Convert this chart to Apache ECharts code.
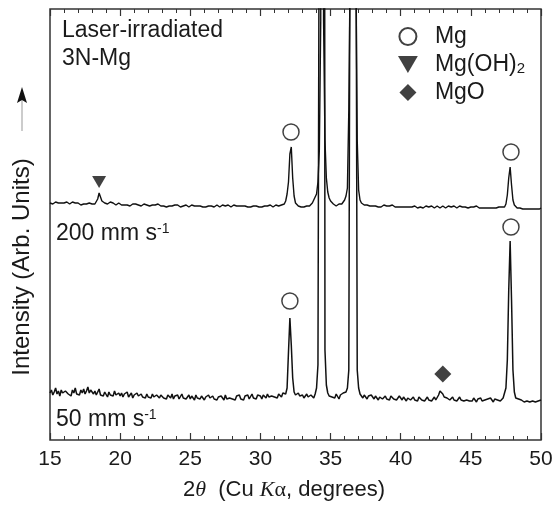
<!DOCTYPE html>
<html>
<head>
<meta charset="utf-8">
<script src="https://cdn.jsdelivr.net/npm/echarts@6/dist/echarts.min.js"></script>
<style>
  html, body { margin: 0; padding: 0; background: #fff; }
  #chart { width: 558px; height: 506px; }
</style>
</head>
<body>
<div id="chart"></div>
<script>
  // scan grid: 2theta from 15 to 50 deg, step 0.1
  var scanStart = 15, scanStep = 0.1;

  // 200 mm/s trace (arb. units), one row per degree
  var trace200 = [
    237,238,236,237,238,236,237,238,237,236,
    237,236,238,237,236,237,238,236,237,236,
    237,236,235,237,236,237,236,235,237,236,
    236,237,236,238,241,247,243,239,238,237,
    237,236,237,238,236,237,236,235,236,237,
    236,235,236,235,237,235,236,234,235,236,
    235,236,234,235,236,234,235,236,234,235,
    235,234,236,235,234,235,234,236,235,234,
    235,234,235,233,235,234,235,234,233,235,
    234,235,234,233,235,234,233,235,234,233,
    234,235,233,234,235,234,233,234,235,233,
    234,233,235,234,233,234,235,233,234,235,
    234,233,234,235,233,234,233,235,234,233,
    234,235,233,234,233,234,235,234,233,234,
    235,233,234,233,235,234,233,234,235,233,
    234,233,235,234,233,234,233,235,234,233,
    234,235,233,234,233,235,234,236,239,246,
    258,286,293,262,244,237,235,234,235,233,
    234,233,235,234,233,234,236,237,240,243,
    246,258,290,420,4000,420,300,262,248,242,
    239,237,236,235,234,235,236,234,236,237,
    240,244,252,330,480,1500,5000,1500,480,300,
    250,240,237,236,235,234,235,233,234,235,
    234,233,234,235,233,234,233,234,235,233,
    234,233,234,233,235,234,233,234,233,234,
    233,234,233,235,233,234,233,234,233,232,
    234,233,232,234,233,234,232,233,234,233,
    233,232,234,233,232,233,234,233,232,233,
    234,233,232,233,234,232,233,232,234,233,
    232,233,234,232,233,232,233,234,232,233,
    233,232,233,232,234,233,232,233,232,233,
    232,233,232,234,232,233,232,233,232,231,
    233,232,233,232,233,236,245,262,273,255,
    240,235,233,232,231,232,233,231,232,231,
    232,231,232,231,233,231,232,231,232,231,
    232
  ];

  // 50 mm/s trace
  var trace50 = [
    47,50,45,48,52,46,49,44,50,47,
    45,49,51,46,48,44,50,47,52,46,
    48,45,50,47,51,46,49,53,47,50,
    52,46,49,45,48,51,45,47,44,48,
    46,43,48,45,47,44,49,45,43,47,
    44,47,43,46,44,48,43,45,47,42,
    45,43,47,44,42,46,43,45,42,46,
    43,45,42,46,43,41,45,44,42,45,
    47,42,44,41,45,43,42,46,41,44,
    42,45,41,43,46,42,44,41,43,45,
    41,44,42,40,45,42,43,41,44,42,
    40,43,41,45,42,40,44,41,43,40,
    43,41,44,42,40,45,41,43,42,44,
    41,43,40,44,42,45,41,43,40,44,
    42,45,41,43,46,42,44,41,45,43,
    44,41,45,43,42,46,43,41,44,46,
    43,45,42,46,44,43,47,45,46,52,
    88,122,95,62,48,45,43,47,44,42,
    45,42,44,46,43,41,45,44,42,46,
    52,75,600,3000,5000,2000,90,55,47,44,
    46,43,45,42,46,44,41,45,43,47,
    46,48,52,70,600,3000,6000,3000,600,70,
    52,46,44,42,45,43,41,44,42,45,
    43,41,44,42,40,43,45,41,42,44,
    41,43,40,44,42,41,43,40,42,44,
    42,40,43,41,39,42,44,40,41,43,
    40,42,39,43,41,40,42,39,41,43,
    40,42,39,41,43,40,42,45,49,50,
    46,43,41,42,44,40,41,43,40,42,
    39,41,43,40,42,39,41,40,42,39,
    41,39,42,40,38,41,40,42,39,41,
    40,38,41,39,42,40,38,41,39,40,
    41,39,40,42,44,52,80,150,199,140,
    70,48,42,40,41,39,40,42,38,40,
    39,41,38,40,39,41,38,40,39,38,
    40
  ];

  // peak assignment marks [2theta, height]
  var mgMarks = [[32.18, 308], [47.86, 288], [32.1, 139], [47.86, 213]];
  var mgoh2Marks = [[18.5, 258]];
  var mgoMarks = [[43.0, 66]];

  var xTicks = { min: 15, max: 50, interval: 5 };

  function pairs(arr) {
    return arr.map(function (v, i) {
      return [+(scanStart + i * scanStep).toFixed(2), v];
    });
  }

  var FONT = '"Liberation Sans", Arial, Helvetica, sans-serif';
  var INK = '#1a1a1a';

  var chart = echarts.init(document.getElementById('chart'));

  function xAxisCfg(pos, labels) {
    return {
      type: 'value',
      position: pos,
      min: xTicks.min,
      max: xTicks.max,
      interval: xTicks.interval,
      axisLine: { show: false },
      axisTick: { inside: true, length: 7, lineStyle: { color: '#333', width: 1.2 } },
      minorTick: { show: true, splitNumber: 5, length: 4, lineStyle: { color: '#333', width: 1 } },
      axisLabel: { show: labels, fontSize: 21, color: INK, margin: 9, fontFamily: FONT },
      splitLine: { show: false }
    };
  }

  var supRich = { sup: { fontSize: 14, fontFamily: FONT, fill: INK, verticalAlign: 'top' } };

  chart.setOption({
    animation: false,
    grid: {
      left: 50, top: 9, right: 17, bottom: 66,
      show: true, borderColor: '#333', borderWidth: 1.5
    },
    xAxis: [xAxisCfg('bottom', true), xAxisCfg('top', false)],
    yAxis: { type: 'value', min: 0, max: 431, show: false },
    legend: {
      data: ['Mg', 'Mg(OH)2', 'MgO'],
      orient: 'vertical',
      left: 393, top: 20,
      itemWidth: 44, itemHeight: 17, itemGap: 5,
      selectedMode: false,
      textStyle: {
        fontSize: 23, color: INK, fontFamily: FONT,
        rich: { sub: { fontSize: 15, color: INK, fontFamily: FONT, verticalAlign: 'bottom' } }
      },
      formatter: function (n) { return n === 'Mg(OH)2' ? 'Mg(OH){sub|2}' : n; }
    },
    series: [
      {
        type: 'line', name: '200 mm/s', data: pairs(trace200),
        symbol: 'none', silent: true, clip: true,
        lineStyle: { color: '#111', width: 1.4 }
      },
      {
        type: 'line', name: '50 mm/s', data: pairs(trace50),
        symbol: 'none', silent: true, clip: true,
        lineStyle: { color: '#111', width: 1.5 }
      },
      {
        type: 'scatter', name: 'Mg', data: mgMarks, symbol: 'circle', symbolSize: 16, z: 5,
        itemStyle: { color: '#fff', borderColor: '#111', borderWidth: 1.5 }
      },
      {
        type: 'scatter', name: 'Mg(OH)2', data: mgoh2Marks,
        symbol: 'path://M0,0L14,0L7,12Z', symbolSize: [14, 12], z: 5,
        itemStyle: { color: '#111' }
      },
      {
        type: 'scatter', name: 'MgO', data: mgoMarks,
        symbol: 'path://M8,0L16,8L8,16L0,8Z', symbolSize: [17, 17], z: 5,
        itemStyle: { color: '#111' }
      }
    ],
    graphic: [
      { type: 'text', x: 62, y: 31, style: { text: 'Laser-irradiated', fontSize: 23, fontFamily: FONT, fill: INK, verticalAlign: 'middle' } },
      { type: 'text', x: 62, y: 59, style: { text: '3N-Mg', fontSize: 23, fontFamily: FONT, fill: INK, verticalAlign: 'middle' } },
      {
        type: 'text', x: 56, y: 234,
        style: { text: '200 mm s{sup|-1}', fontSize: 23, fontFamily: FONT, fill: INK, verticalAlign: 'middle', rich: supRich }
      },
      {
        type: 'text', x: 56, y: 420,
        style: { text: '50 mm s{sup|-1}', fontSize: 23, fontFamily: FONT, fill: INK, verticalAlign: 'middle', rich: supRich }
      },
      {
        type: 'text', x: 284, y: 490,
        style: {
          text: '2{i|θ}  (Cu {i|K}{g|α}, degrees)', fontSize: 22, fontFamily: FONT, fill: INK,
          align: 'center', verticalAlign: 'middle',
          rich: {
            i: { fontSize: 22, fontFamily: '"Liberation Serif", serif', fontStyle: 'italic', fill: INK },
            g: { fontSize: 22, fontFamily: '"Liberation Serif", serif', fill: INK }
          }
        }
      },
      {
        type: 'text', x: 22, y: 267, rotation: Math.PI / 2,
        style: { text: 'Intensity (Arb. Units)', fontSize: 24, fontFamily: FONT, fill: INK, align: 'center', verticalAlign: 'middle' }
      },
      { type: 'line', shape: { x1: 22, y1: 131, x2: 22, y2: 100 }, style: { stroke: '#999', lineWidth: 1 } },
      { type: 'polygon', shape: { points: [[22, 87], [27, 103], [22, 100], [17, 103]] }, style: { fill: '#111' } }
    ]
  });
</script>
</body>
</html>
